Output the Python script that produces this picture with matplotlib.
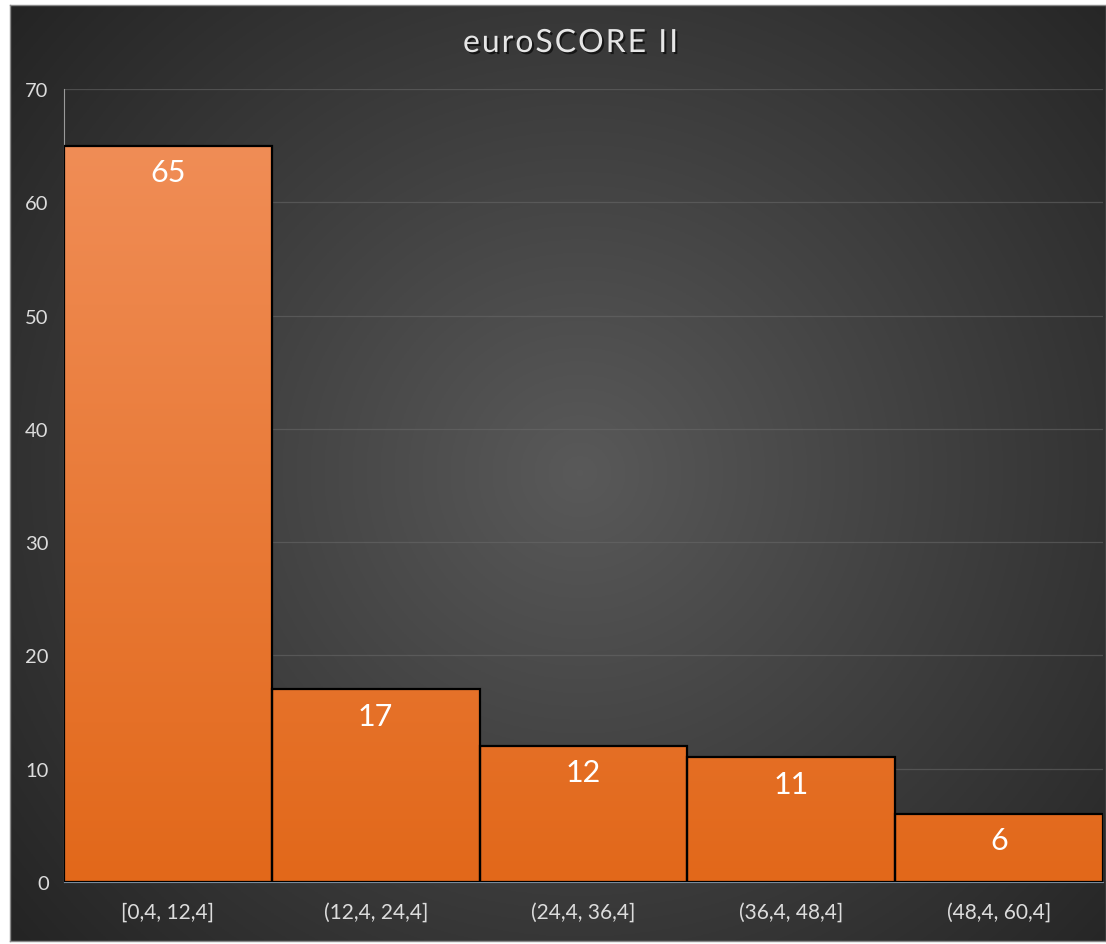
import matplotlib.pyplot as plt
import matplotlib.patheffects as pe
import numpy as np

categories = ["[0,4, 12,4]", "(12,4, 24,4]", "(24,4, 36,4]", "(36,4, 48,4]", "(48,4, 60,4]"]
counts = [65, 17, 12, 11, 6]
title = "euroSCORE II"

plt.rcParams['font.family'] = ['Lato', 'DejaVu Sans']
W, H = 1106, 945
fig = plt.figure(figsize=(W / 100, H / 100), dpi=100)
fig.patch.set_facecolor('white')

# dark radial background panel
bg = fig.add_axes([10 / W, 3 / H, 1 - 10 / W, 1 - 9 / H])
yy, xx = np.mgrid[0:1:400j, 0:1:470j]
r = np.sqrt(((xx - 0.52) / 0.75) ** 2 + ((yy - 0.50) / 0.85) ** 2)
shade = np.clip(0.35 - 0.23 * r, 0.14, 0.35)
bg.imshow(np.dstack([shade] * 3), aspect='auto', extent=[0, 1, 0, 1])
bg.set_xticks([])
bg.set_yticks([])
for s in bg.spines.values():
    s.set_color('#8a8a8a')
    s.set_linewidth(1)

ax = fig.add_axes([64 / W, 1 - 883 / H, (1103 - 64) / W, (883 - 90) / H])
ax.patch.set_alpha(0)

x = np.arange(len(counts))
bars = ax.bar(x, counts, width=1.0, facecolor='none', edgecolor='black',
              linewidth=1.6, zorder=3)

# orange vertical gradient, lighter toward the top
top_c = np.array([240, 141, 86]) / 255
bot_c = np.array([226, 104, 26]) / 255
t = np.linspace(0, 1, 300)[:, None]
grad = (bot_c + (top_c - bot_c) * t)[::-1]
grad = np.repeat(grad[:, None, :], 2, axis=1)
for b in bars:
    im = ax.imshow(grad, aspect='auto', extent=[-0.5, 4.5, 0, max(counts)],
                   zorder=2, interpolation='bilinear')
    im.set_clip_path(b)

for xi, v in zip(x, counts):
    ax.annotate(str(v), (xi, v), xytext=(0, -19), textcoords='offset points',
                ha='center', va='center', color='white', fontsize=22, zorder=4)

ax.set_xlim(-0.5, 4.5)
ax.set_ylim(0, 70)
ax.set_yticks(range(0, 71, 10))
ax.set_xticks(x)
ax.set_xticklabels(categories)
ax.tick_params(length=0, colors='#dcdcdc', labelsize=14.5)
ax.tick_params(axis='x', labelsize=15, pad=14)
ax.tick_params(axis='y', pad=11)
ax.grid(axis='y', color='#6a6a6a', linewidth=0.9, alpha=0.55, zorder=0)
for s in ['top', 'right']:
    ax.spines[s].set_visible(False)
ax.spines['left'].set_color('#9a9a9a')
ax.spines['bottom'].set_color('#7a8a9a')

# slightly letter-spaced title
spaced = '\u200a'.join(title)
fig.text(0.516, 1 - 44 / H, spaced, ha='center', va='center', color='#e6e6e6',
         fontsize=23,
         path_effects=[pe.withSimplePatchShadow(offset=(1.5, -1.5), shadow_rgbFace='black', alpha=0.6)])

fig.savefig('out.png', dpi=100, facecolor=fig.get_facecolor())
